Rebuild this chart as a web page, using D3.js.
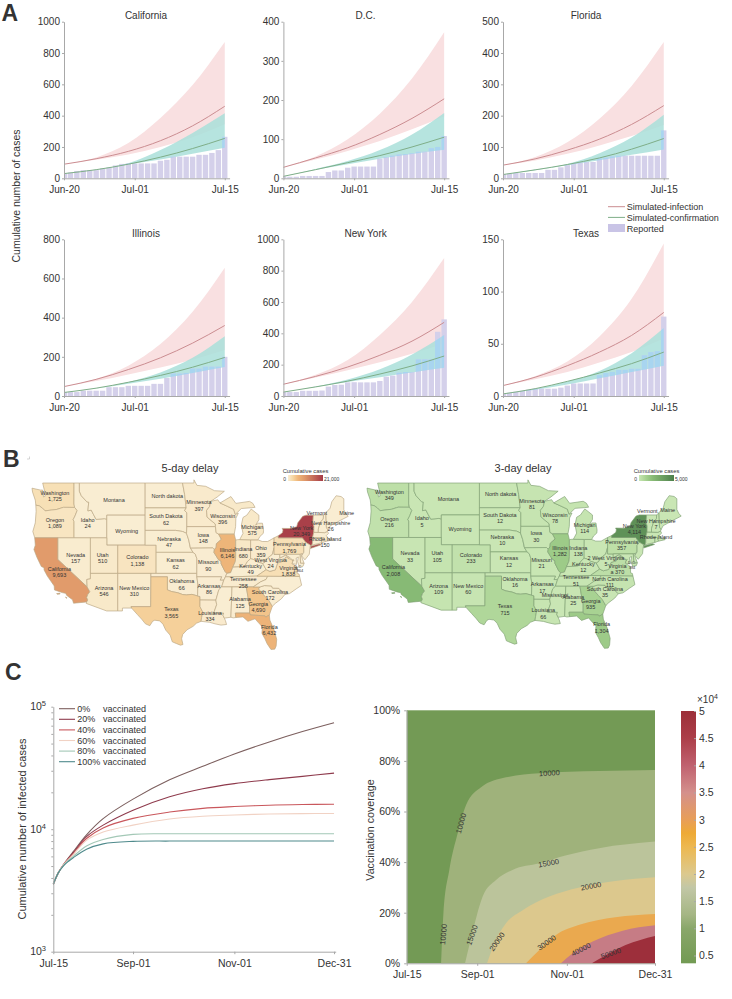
<!DOCTYPE html>
<html><head><meta charset="utf-8">
<script src="https://cdn.jsdelivr.net/npm/d3@7"></script>
<style>
html,body{margin:0;padding:0;background:#fff}
svg{display:block}
text{font-family:"Liberation Sans",Arial,sans-serif;fill:#333}
</style></head><body><div id="c"></div>
<script>
/* ---------- Panel A data ---------- */
const stateNamesA=["California","D.C.","Florida","Illinois","New York","Texas"];
const yMaxA=[1000,400,500,800,1000,150];
const yStepA=[200,100,100,200,200,50];
const knotDays=[0,5,10,15,20,25];
const dayTicksA=[0,11,25];
const dayLabelsA=["Jun-20","Jul-01","Jul-15"];
const reportedCA=[32,37,47,52,52,52,62,68,82,92,95,95,95,95,95,112,118,138,138,138,138,150,150,162,180,265];
const reportedDC=[5,4,4,6,6,6,6,16,20,20,27,30,30,30,30,50,54,58,61,62,64,68,68,77,80,108];
const reportedFL=[13,15,17,17,17,17,17,27,27,35,42,48,50,52,52,64,66,70,72,72,72,72,72,72,72,153];
const reportedIL=[20,20,20,27,27,27,27,45,45,45,52,52,52,52,62,62,92,115,115,118,140,140,150,150,150,200];
const reportedNY=[25,25,25,33,33,33,35,60,70,72,87,88,87,87,87,96,123,130,149,153,153,234,234,234,410,489];
const reportedTX=[2,3,4,5,6,7,7,7,7,8,10,12,12,12,12,20,22,23,25,25,26,26,39,42,43,76];
const infCA=[90,125,172,240,335,460], infUpCA=[90,133,225,385,595,870], infLoCA=[90,118,152,200,262,345];
const conCA=[30,55,90,135,190,255], conUpCA=[30,56,96,180,290,415], conLoCA=[30,55,88,120,156,195];
const infDC=[28,52,78,112,153,203], infUpDC=[28,56,100,165,255,373], infLoDC=[28,48,70,95,125,158];
const conDC=[5,22,40,58,80,105], conUpDC=[5,24,44,72,112,167], conLoDC=[5,22,36,50,62,73];
const infFL=[42,62,90,125,172,232], infUpFL=[42,68,115,190,295,435], infLoFL=[42,57,78,105,135,170];
const conFL=[12,27,44,65,93,127], conUpFL=[12,28,46,80,130,203], conLoFL=[12,26,42,58,75,92];
const infIL=[48,85,135,195,270,360], infUpIL=[48,88,155,265,430,655], infLoIL=[48,76,110,145,185,235];
const conIL=[18,40,70,105,147,197], conUpIL=[18,40,72,120,195,305], conLoIL=[18,38,62,88,118,148];
const infNY=[75,125,185,260,350,470], infUpNY=[75,135,230,390,600,880], infLoNY=[75,118,165,215,270,335];
const conNY=[25,58,95,140,192,255], conUpNY=[25,60,105,170,265,390], conLoNY=[25,58,90,120,150,180];
const infTX=[10,18,29,42,58,80], infUpTX=[10,19,33,57,93,146], infLoTX=[10,16,23,32,42,55];
const conTX=[2,7,14,22,31,42], conUpTX=[2,7,14,24,41,65], conLoTX=[2,6,11,17,23,29];
const reportedA=[reportedCA,reportedDC,reportedFL,reportedIL,reportedNY,reportedTX];
const infA=[infCA,infDC,infFL,infIL,infNY,infTX],infUpA=[infUpCA,infUpDC,infUpFL,infUpIL,infUpNY,infUpTX],infLoA=[infLoCA,infLoDC,infLoFL,infLoIL,infLoNY,infLoTX];
const conA=[conCA,conDC,conFL,conIL,conNY,conTX],conUpA=[conUpCA,conUpDC,conUpFL,conUpIL,conUpNY,conUpTX],conLoA=[conLoCA,conLoDC,conLoFL,conLoIL,conLoNY,conLoTX];

/* ---------- Panel B data (lon/lat outlines) ---------- */
const states={
WA:[[[-124.7,48.38],[-123.2,48.15],[-122.75,48.15],[-122.6,47.3],[-122.3,47.4],[-122.4,48.0],[-122.75,49],[-117.03,49],[-117.04,46.42],[-116.92,45.99],[-118.98,46],[-119.3,45.93],[-120.2,45.73],[-121.2,45.65],[-122.3,45.55],[-122.8,45.9],[-123.4,46.2],[-124,46.27],[-124.1,46.9],[-124.6,47.9]]],
OR:[[[-124,46.27],[-123.4,46.2],[-122.8,45.9],[-122.3,45.55],[-121.2,45.65],[-120.2,45.73],[-119.3,45.93],[-118.98,46],[-116.92,45.99],[-116.46,45.6],[-116.85,44.9],[-117.2,44.4],[-117.03,44.2],[-117.03,42],[-124.2,42],[-124.55,42.85],[-124.1,44],[-123.95,45.5]]],
ID:[[[-117.03,49],[-116.05,49],[-116.05,48],[-115.7,47.45],[-114.7,46.7],[-114.35,46.65],[-114.5,45.55],[-113.9,45.65],[-113.45,45.05],[-113,44.45],[-111.5,44.55],[-111.05,44.48],[-111.05,42],[-117.03,42],[-117.03,44.2],[-117.2,44.4],[-116.85,44.9],[-116.46,45.6],[-116.92,45.99],[-117.04,46.42]]],
MT:[[[-116.05,49],[-104.05,49],[-104.05,45],[-111.05,45],[-111.05,44.48],[-111.5,44.55],[-113,44.45],[-113.45,45.05],[-113.9,45.65],[-114.5,45.55],[-114.35,46.65],[-114.7,46.7],[-115.7,47.45],[-116.05,48]]],
WY:[[[-111.05,45],[-104.05,45],[-104.05,41],[-111.05,41]]],
NV:[[[-120,42],[-114.04,42],[-114.04,36.2],[-114.7,36.1],[-114.63,35],[-120,39]]],
CA:[[[-124.2,42],[-120,42],[-120,39],[-114.63,35],[-114.13,34.27],[-114.5,33.9],[-114.72,33.4],[-114.52,33.03],[-114.72,32.72],[-117.12,32.53],[-117.3,33.05],[-118.4,33.75],[-118.5,34.03],[-119.2,34.15],[-120.6,34.55],[-120.65,35.15],[-121.9,36.6],[-122.5,37.5],[-122.5,37.8],[-123,38],[-123.8,39.3],[-124.35,40.4],[-124.1,41]],[[-120.2,34],[-119.6,34.05],[-119.6,33.93],[-120.1,33.9]],[[-118.6,33.45],[-118.3,33.35],[-118.4,33.3]]],
UT:[[[-114.04,42],[-111.05,42],[-111.05,41],[-109.05,41],[-109.05,37],[-114.04,37]]],
AZ:[[[-114.04,37],[-109.05,37],[-109.05,31.33],[-111.07,31.33],[-114.81,32.5],[-114.72,32.72],[-114.52,33.03],[-114.72,33.4],[-114.5,33.9],[-114.13,34.27],[-114.63,35],[-114.7,36.1],[-114.04,36.2]]],
CO:[[[-109.05,41],[-102.05,41],[-102.05,37],[-109.05,37]]],
NM:[[[-109.05,37],[-103,37],[-103.04,32],[-106.62,32],[-106.53,31.78],[-108.2,31.78],[-108.2,31.33],[-109.05,31.33]]],
ND:[[[-104.05,49],[-97.23,49],[-96.85,47.6],[-96.56,45.93],[-104.05,45.93]]],
SD:[[[-104.05,45.93],[-96.56,45.93],[-96.85,45.6],[-96.45,45.3],[-96.45,43.5],[-96.5,42.6],[-97.2,42.85],[-98.5,43],[-104.05,43]]],
NE:[[[-104.05,43],[-98.5,43],[-97.2,42.85],[-96.5,42.6],[-96.1,41.7],[-95.85,40.7],[-95.31,40],[-102.05,40],[-102.05,41],[-104.05,41]]],
KS:[[[-102.05,40],[-95.31,40],[-94.9,39.75],[-94.61,39.11],[-94.62,37],[-102.05,37]]],
OK:[[[-103,37],[-94.62,37],[-94.62,36.5],[-94.43,35.4],[-94.48,33.64],[-95.5,33.88],[-96.5,33.8],[-97.2,33.85],[-98.1,34.13],[-99.2,34.3],[-100,34.56],[-100,36.5],[-103,36.5]]],
TX:[[[-106.62,32],[-103.04,32],[-103,36.5],[-100,36.5],[-100,34.56],[-99.2,34.3],[-98.1,34.13],[-97.2,33.85],[-96.5,33.8],[-95.5,33.88],[-94.48,33.64],[-94.04,33.55],[-94.04,32],[-93.55,31.2],[-93.75,30.3],[-93.84,29.7],[-94.7,29.4],[-95.3,28.9],[-96.4,28.35],[-97.2,27.6],[-97.4,26.9],[-97.15,25.96],[-97.6,25.85],[-98.3,26.1],[-99.1,26.4],[-99.5,27.5],[-100.3,28.3],[-100.8,29.25],[-101.4,29.77],[-102.3,29.88],[-102.7,29.7],[-103.2,29],[-104,29.3],[-104.7,30.05],[-105.5,30.8],[-106.53,31.78]]],
MN:[[[-97.23,49],[-95.15,49],[-95.15,49.38],[-94.6,48.72],[-93,48.6],[-91.4,48.07],[-89.6,48],[-90.9,47.3],[-92.1,46.75],[-92.3,46.1],[-92.85,45.6],[-92.75,44.75],[-91.25,43.85],[-91.22,43.5],[-96.45,43.5],[-96.45,45.3],[-96.85,45.6],[-96.56,45.93],[-96.85,47.6]]],
IA:[[[-96.45,43.5],[-91.22,43.5],[-91.1,42.7],[-90.64,42.5],[-90.15,41.8],[-91.05,41.2],[-91.1,40.7],[-91.42,40.38],[-91.73,40.61],[-95.77,40.58],[-96.1,41.7],[-96.5,42.6]]],
MO:[[[-95.77,40.58],[-91.73,40.61],[-91.42,40.38],[-91.5,40],[-90.7,39],[-90.2,38.75],[-90.2,38.4],[-89.5,37.3],[-89.15,37],[-89.4,36.5],[-89.7,36],[-90.37,36],[-90.1,36.5],[-94.62,36.5],[-94.62,37],[-94.61,39.11],[-94.9,39.75],[-95.31,40]]],
AR:[[[-94.62,36.5],[-90.1,36.5],[-90.37,36],[-89.7,36],[-90.1,35],[-90.6,34.6],[-91.15,33],[-94.04,33.02],[-94.04,33.55],[-94.48,33.64],[-94.43,35.4]]],
LA:[[[-94.04,33.02],[-91.15,33],[-91,32.3],[-91.55,31],[-89.73,31],[-89.85,30.65],[-89.6,30.2],[-89.4,29.8],[-89.2,29.2],[-90.2,29.1],[-91.3,29.3],[-92.3,29.55],[-93.84,29.7],[-93.75,30.3],[-93.55,31.2],[-94.04,32]]],
WI:[[[-92.1,46.75],[-90.8,46.95],[-90.4,46.55],[-89.1,46.15],[-87.9,45.75],[-87.6,45.1],[-87.05,45.25],[-87.5,44.6],[-87.55,43.5],[-87.8,42.5],[-90.64,42.5],[-91.1,42.7],[-91.22,43.5],[-91.25,43.85],[-92.75,44.75],[-92.85,45.6],[-92.3,46.1]]],
IL:[[[-90.64,42.5],[-87.8,42.5],[-87.53,41.7],[-87.53,39.35],[-87.6,38.7],[-88.05,37.9],[-88.45,37.1],[-89.15,37],[-89.5,37.3],[-90.2,38.4],[-90.2,38.75],[-90.7,39],[-91.5,40],[-91.42,40.38],[-91.1,40.7],[-91.05,41.2],[-90.15,41.8]]],
IN:[[[-87.53,41.7],[-87.2,41.75],[-86.8,41.76],[-84.8,41.73],[-84.82,39.1],[-85.4,38.7],[-85.9,38],[-86.5,37.95],[-88.05,37.9],[-87.6,38.7],[-87.53,39.35]]],
OH:[[[-84.8,41.73],[-83.45,41.73],[-82.7,41.5],[-81.7,41.5],[-80.52,42],[-80.52,40.64],[-80.85,39.7],[-81.7,39.2],[-82.2,38.6],[-82.6,38.42],[-83.6,38.65],[-84.3,39],[-84.82,39.1]]],
MI:[[[-86.8,41.76],[-84.8,41.73],[-83.45,41.73],[-83.1,42.2],[-82.5,42.6],[-82.45,43],[-82.65,43.95],[-83.4,43.95],[-83.9,43.7],[-83.3,44.4],[-83.3,45],[-84.7,45.78],[-85.5,45],[-86.2,44.7],[-86.5,43.7],[-86.2,42.6]],[[-90.4,46.55],[-88.4,47.35],[-87.5,46.5],[-86,46.65],[-85,46.75],[-84.4,46.5],[-84,46],[-84.7,45.95],[-86.5,45.85],[-87.6,45.1],[-87.9,45.75],[-89.1,46.15]]],
KY:[[[-89.4,36.5],[-89.15,37],[-88.45,37.1],[-88.05,37.9],[-86.5,37.95],[-85.9,38],[-85.4,38.7],[-84.82,39.1],[-84.3,39],[-83.6,38.65],[-82.6,38.42],[-81.97,37.54],[-83.68,36.6],[-88.07,36.5]]],
TN:[[[-90.1,35],[-89.7,36],[-89.4,36.5],[-88.07,36.5],[-83.68,36.6],[-81.68,36.59],[-82,36.1],[-83,35.75],[-84.32,35],[-88.2,35]]],
MS:[[[-91.15,33],[-90.6,34.6],[-90.1,35],[-88.2,35],[-88.4,30.35],[-89.6,30.2],[-89.85,30.65],[-89.73,31],[-91.55,31],[-91,32.3]]],
AL:[[[-88.2,35],[-85.6,35],[-85.15,32.8],[-85,32.3],[-85,31],[-87.6,31],[-87.5,30.3],[-88,30.25],[-88.4,30.35]]],
GA:[[[-85.6,35],[-84.32,35],[-83.1,35],[-83.35,34.7],[-82.2,33.6],[-81.5,33],[-80.85,32.05],[-81.4,30.7],[-82.05,30.37],[-82.2,30.57],[-84.85,30.7],[-85,31],[-85,32.3],[-85.15,32.8]]],
FL:[[[-87.6,31],[-85,31],[-84.85,30.7],[-82.2,30.57],[-82.05,30.37],[-81.4,30.7],[-81.3,29.9],[-80.55,28.4],[-80.05,26.8],[-80.15,25.7],[-80.4,25.2],[-81.1,25.15],[-81.8,26.1],[-82.2,26.9],[-82.75,27.8],[-82.65,28.8],[-83.4,29.5],[-84,30.1],[-85.3,29.7],[-86.2,30.4],[-87.5,30.3]]],
SC:[[[-83.35,34.7],[-83.1,35],[-82.3,35.2],[-81,35.15],[-80.8,34.82],[-79.67,34.8],[-78.55,33.86],[-79.2,33.2],[-80.3,32.5],[-80.85,32.05],[-81.5,33],[-82.2,33.6]]],
NC:[[[-84.32,35],[-83,35.75],[-82,36.1],[-81.68,36.59],[-75.87,36.55],[-75.5,35.25],[-76.5,34.7],[-77.7,34],[-78.55,33.86],[-79.67,34.8],[-80.8,34.82],[-81,35.15],[-82.3,35.2],[-83.1,35]]],
VA:[[[-83.68,36.6],[-81.97,37.54],[-81.3,37.3],[-80.3,37.5],[-79.9,38.5],[-78.9,38.75],[-78.35,39.4],[-77.8,39.13],[-77.05,38.85],[-77.25,38.4],[-76.3,37.9],[-76.3,37],[-75.97,36.9],[-75.87,36.55],[-81.68,36.59]]],
WV:[[[-81.97,37.54],[-82.6,38.42],[-82.2,38.6],[-81.7,39.2],[-80.85,39.7],[-80.52,40.64],[-80.52,39.72],[-79.48,39.72],[-79.48,39.2],[-78.4,39.62],[-77.75,39.32],[-77.8,39.13],[-78.35,39.4],[-78.9,38.75],[-79.9,38.5],[-80.3,37.5],[-81.3,37.3]]],
PA:[[[-80.52,42],[-79.76,42.27],[-79.76,42],[-75.35,42],[-74.7,41.35],[-75.1,40.9],[-75.1,40],[-75.4,39.8],[-75.8,39.72],[-80.52,39.72]]],
NY:[[[-79.76,42.27],[-79,42.7],[-78.9,43.05],[-79.05,43.27],[-77.5,43.25],[-76.4,43.5],[-76.2,44],[-75.3,44.85],[-74.7,45],[-73.35,45],[-73.45,44],[-73.25,43.55],[-73.27,42.75],[-73.5,42.05],[-73.5,41.3],[-73.65,41],[-74,40.75],[-73.9,41],[-74.7,41.35],[-75.35,42],[-79.76,42]],[[-73.8,40.85],[-72.3,41.15],[-71.9,41.05],[-73.9,40.55]]],
NJ:[[[-74.7,41.35],[-73.9,41],[-74,40.5],[-74.1,39.75],[-74.9,38.95],[-75.5,39.5],[-75.1,40],[-75.1,40.9]]],
DE:[[[-75.8,39.72],[-75.4,39.8],[-75.55,39.5],[-75.05,38.45],[-75.7,38.46]]],
MD:[[[-79.48,39.72],[-75.8,39.72],[-75.7,38.46],[-75.05,38.45],[-75.25,38.03],[-75.9,37.95],[-76.25,38.7],[-76.1,39.35],[-76.5,39.2],[-76.4,38.3],[-77.25,38.4],[-77.05,38.85],[-77.75,39.32],[-78.4,39.62],[-79.48,39.2]]],
DC:[[[-77.12,38.93],[-77.04,39],[-76.91,38.89],[-77.04,38.79]]],
CT:[[[-73.5,42.05],[-71.8,42.02],[-71.85,41.32],[-73.65,41],[-73.5,41.3]]],
RI:[[[-71.8,42.02],[-71.38,42.02],[-71.15,41.5],[-71.85,41.32]]],
MA:[[[-73.5,42.05],[-73.27,42.75],[-72.46,42.73],[-71.3,42.7],[-70.8,42.87],[-70.6,42.6],[-71,42.3],[-70.5,41.8],[-70.05,41.8],[-70.2,42.05],[-69.95,41.7],[-71.15,41.5],[-71.38,42.02],[-71.8,42.02]]],
VT:[[[-73.35,45],[-71.5,45],[-71.55,44.5],[-72.05,44.1],[-72.45,43.2],[-72.46,42.73],[-73.27,42.75],[-73.25,43.55],[-73.45,44]]],
NH:[[[-71.5,45],[-71.08,45.3],[-70.98,43.4],[-70.7,43.07],[-70.8,42.87],[-71.3,42.7],[-72.46,42.73],[-72.45,43.2],[-72.05,44.1],[-71.55,44.5]]],
ME:[[[-71.08,45.3],[-70.3,45.9],[-70,46.7],[-69.2,47.45],[-68.3,47.35],[-67.8,47.07],[-67.8,45.7],[-67.45,45.2],[-67,44.85],[-68.5,44.3],[-69.5,43.9],[-70.3,43.6],[-70.7,43.07],[-70.98,43.4]]]
};
const delay5={WA:1725,OR:1089,ID:24,SD:62,MN:397,WI:396,MI:575,NV:157,UT:510,CO:1138,NE:47,IA:148,IL:6146,IN:680,OH:359,PA:1769,NY:20349,NH:26,RI:150,CA:9693,AZ:546,NM:310,KS:62,MO:90,OK:66,AR:86,KY:49,WV:24,VA:1838,TN:258,SC:172,GA:4690,FL:6432,AL:125,LA:334,TX:3565,DC:1864};
const delay3={WA:349,OR:216,ID:5,SD:12,MN:81,WI:78,MI:114,NV:33,UT:105,CO:233,NE:10,IA:30,IL:1282,IN:138,PA:357,NY:4114,NH:7,CA:2008,AZ:109,NM:60,KS:12,MO:21,OK:16,AR:17,KY:12,WV:5,VA:370,TN:51,NC:111,SC:35,GA:935,AL:25,FL:1304,LA:66,TX:715,DC:384};
/* label texts: name, value */
const labels5=[["Washington","1,725"],["Montana",""],["North dakota",""],["Minnesota","397"],["Wisconsin","396"],["Michigan","575"],["South Dakota","62"],["Oregon","1,089"],["Idaho","24"],["Wyoming",""],["Nebraska","47"],["Iowa","148"],["Illinois","6,146"],["Indiana","680"],["Ohio","359"],["Pennsylvania","1,769"],["New York","20,349"],["Vermont",""],["Maine",""],["New Hampshire","26"],["Rhode Island","150"],["Nevada","157"],["Utah","510"],["Colorado","1,138"],["Kansas","62"],["Missouri","90"],["Kentucky","49"],["West Virginia","24"],["Virginia","1,838"],["Tennessee","258"],["Oklahoma","66"],["Arkansas","86"],["Arizona","546"],["New Mexico","310"],["California","9,693"],["Texas","3,565"],["Alabama","125"],["Georgia","4,690"],["South Carolina","172"],["Louisiana","334"],["Florida","6,432"],["D.C.","1,864"]];
const labels3=[["Washington","349"],["Montana",""],["North dakota",""],["Minnesota","81"],["Wisconsin","78"],["Michigan","114"],["South Dakota","12"],["Oregon","216"],["Idaho","5"],["Wyoming",""],["Nebraska","10"],["Iowa","30"],["Illinois","1,282"],["Indiana","138"],["Pennsylvania","357"],["New York","4,114"],["Vermont",""],["Maine",""],["New Hampshire","7"],["Rhode Island",""],["Nevada","33"],["Utah","105"],["Colorado","233"],["Kansas","12"],["Missouri","21"],["Kentucky","12"],["2 West Virginia","5"],["Virginia","a 370"],["Tennessee","51"],["North Carolina","111"],["South Carolina","35"],["Oklahoma","16"],["Arkansas","17"],["Mississippi",""],["Alabama","25"],["Georgia","935"],["Arizona","109"],["New Mexico","60"],["California","2,008"],["Texas","715"],["Louisiana","66"],["Florida","1,304"],["D.C.","384"]];
/* label layout, in zoom units of the sheet */
const pos5={"Washington":[165,143],"Montana":[342,165],"North dakota":[502,152],"Minnesota":[597,172],"Wisconsin":[668,213],"Michigan":[757,245],"South Dakota":[498,214],"Oregon":[165,225],"Idaho":[263,225],"Wyoming":[380,258],"Nebraska":[507,282],"Iowa":[610,270],"Illinois":[682,314],"Indiana":[730,313],"Ohio":[783,310],"Pennsylvania":[868,298],"New York":[905,248],"Vermont":[950,203],"Maine":[1040,203],"New Hampshire":[992,233],"Rhode Island":[975,282],"Nevada":[227,330],"Utah":[308,330],"Colorado":[412,337],"Kansas":[527,346],"Missouri":[625,352],"Kentucky":[752,362],"West Virginia":[812,345],"Virginia":[865,368],"Tennessee":[730,403],"Oklahoma":[545,409],"Arkansas":[627,423],"Arizona":[312,428],"New Mexico":[403,428],"California":[178,372],"Texas":[514,493],"Alabama":[720,463],"Georgia":[775,477],"South Carolina":[810,440],"Louisiana":[630,503],"Florida":[808,546],"D.C.":[895,362]};
const pos3={"Washington":[88,140],"Montana":[265,161],"North dakota":[422,148],"Minnesota":[516,168],"Wisconsin":[585,209],"Michigan":[674,240],"South Dakota":[420,210],"Oregon":[88,221],"Idaho":[186,220],"Wyoming":[300,253],"Nebraska":[427,276],"Iowa":[529,265],"Illinois":[600,309],"Indiana":[655,309],"Pennsylvania":[785,290],"New York":[823,243],"Vermont":[862,197],"Maine":[923,195],"New Hampshire":[888,228],"Rhode Island":[888,276],"Nevada":[150,325],"Utah":[232,325],"Colorado":[333,330],"Kansas":[447,340],"Missouri":[545,345],"Kentucky":[670,357],"2 West Virginia":[738,338],"Virginia":[772,363],"Tennessee":[648,397],"North Carolina":[750,402],"South Carolina":[735,432],"Oklahoma":[465,402],"Arkansas":[547,418],"Mississippi":[585,450],"Alabama":[640,455],"Georgia":[692,468],"Arizona":[236,423],"New Mexico":[325,423],"California":[100,367],"Texas":[435,484],"Louisiana":[550,496],"Florida":[725,538],"D.C.":[816,352]};

/* ---------- Panel C data ---------- */
const daysC=[0,3,6,9,12,20,30,48,70,90,109,130,150,169];
const dayTicksC=[0,48,109,169];
const dayLabelsC=["Jul-15","Sep-01","Nov-01","Dec-31"];
const vac0=[3550,4400,5100,5800,6550,9000,12200,17600,25300,32600,41100,51600,62700,74000];
const vac20=[3550,4400,5100,5750,6400,8700,10800,14300,18400,21400,23550,25400,27000,28700];
const vac40=[3550,4400,5100,5700,6300,8400,10250,12250,13800,14800,15300,15700,15900,16000];
const vac60=[3550,4400,5100,5650,6200,8100,9480,10800,12100,12750,13050,13300,13400,13450];
const vac80=[3550,4400,5050,5550,6000,7300,8250,9070,9170,9180,9180,9180,9180,9180];
const vac100=[3550,4400,5000,5450,5850,6860,7590,7950,8000,8000,8000,8000,8000,8000];
const vacSeries=[vac0,vac20,vac40,vac60,vac80,vac100];
const vacNames=["0%","20%","40%","60%","80%","100%"];
const vacColors=["#7c5f5e","#8e3a4c","#c9575c","#f1d2c4","#a3c8b6","#4f8a8c"];
/* contour lines: [day, coverage %] */
const level10k=[[23.4,0],[25,19.8],[29,36.9],[34.7,51.4],[40.4,62.6],[50.6,69.6],[67.6,73.5],[90.3,75.1],[131,76],[169,76.4]];
const level15k=[[39.7,0],[43.8,9.9],[51.7,26.4],[60.8,32.9],[72,36.9],[90.3,39.5],[108,42.6],[131,45.5],[169,48.1]];
const level20k=[[54.7,0],[59.7,7.9],[67.6,15.8],[78.9,21],[97,26.4],[117.5,30],[142,32.5],[169,34]];
const level30k=[[81.2,0],[90.3,5.3],[101.6,11.2],[117.5,15.2],[142,18.2],[169,19.5]];
const level40k=[[105,0],[113,4],[126.6,8.6],[147,12.9],[169,15]];
const level50k=[[126,0],[135.8,3.3],[149,7.2],[169,10.8]];
const contourLevels=[level10k,level15k,level20k,level30k,level40k,level50k];
const bandColors=["#9fb27b","#bbc49b","#dcc88d","#eaa94f","#c67c85","#9d2f3b"];
const baseBand="#739a55";
const cbValues=[0.356,1,1.25,1.75,2,2.5,2.75,3,3.5,4,4.5,5];
const cbColors=["#729a53","#8aa76a","#a5b684","#c2c7a6","#dcc98e","#edb850","#eeaa36","#e89e58","#d4908c","#c0616f","#ac3e49","#9c2f38"];
const cbTicks=[0.5,1,1.5,2,2.5,3,3.5,4,4.5,5];
const covTicks=[0,20,40,60,80,100];

/* ---------- drawing ---------- */
const W=732,H=999;
const svg=d3.select("#c").append("svg").attr("width",W).attr("height",H);
const AX="#a8a8a8";
function styleAxis(g,fs){
  g.selectAll(".domain").attr("stroke",AX).attr("stroke-width",1);
  g.selectAll(".tick line").attr("stroke",AX);
  g.selectAll("text").attr("font-size",fs).attr("font-family",'"Liberation Sans",Arial,sans-serif').attr("fill","#333");
}
function letter(t,x,y){svg.append("text").text(t).attr("x",x).attr("y",y).attr("font-size",23).attr("font-weight","bold").attr("fill","#222");}
letter("A",1.5,21);letter("B",3,467);letter("C",5,680);

/* Panel A */
const colX=[64,283.4,503];
const rowY=[[21.7,178.3],[239.3,396]];
const titleX=[146,365.6,586];
const pxPerDay=6.43,extDays=25.75;
stateNamesA.forEach((nm,i)=>{
  const c=i%3,r=Math.floor(i/3);
  const x=d3.scaleLinear().domain([0,extDays]).range([colX[c],colX[c]+pxPerDay*extDays]);
  const y=d3.scaleLinear().domain([0,yMaxA[i]]).range([rowY[r][1],rowY[r][0]]);
  const g=svg.append("g");
  const band=(up,lo)=>d3.area().x((d,k)=>x(knotDays[k])).y0((d,k)=>y(lo[k])).y1(d=>y(d)).curve(d3.curveMonotoneX)(up);
  const ln=v=>d3.line().x((d,k)=>x(knotDays[k])).y(d=>y(d)).curve(d3.curveMonotoneX)(v);
  g.append("path").attr("d",band(infUpA[i],infLoA[i])).attr("fill","#f9e0e1");
  g.append("path").attr("d",band(conUpA[i],conLoA[i])).attr("fill","#a9dfd9").attr("fill-opacity",.85);
  const barW=5.4;
  const drawBars=(parent,col)=>parent.selectAll("rect").data(reportedA[i]).join("rect")
    .attr("x",(d,k)=>Math.max(x(k)-barW/2,x(0))).attr("width",(d,k)=>k==0?barW/2+.3:barW)
    .attr("y",d=>y(d)).attr("height",d=>y(0)-y(d)).attr("fill",col);
  drawBars(g.append("g"),"#d4d0ea");
  const cid="clipA"+i;
  svg.append("clipPath").attr("id",cid).append("path").attr("d",band(conUpA[i],conLoA[i]));
  drawBars(g.append("g").attr("clip-path",`url(#${cid})`),"#a8d5f0");
  g.append("path").attr("d",ln(infA[i])).attr("fill","none").attr("stroke","#cb8d91").attr("stroke-width",1);
  g.append("path").attr("d",ln(conA[i])).attr("fill","none").attr("stroke","#7fae88").attr("stroke-width",1);
  const gx=g.append("g").attr("transform",`translate(0,${y(0)})`)
    .call(d3.axisBottom(x).tickValues(dayTicksA).tickFormat((d,k)=>dayLabelsA[k]).tickSize(2).tickSizeOuter(0).tickPadding(6));
  styleAxis(gx,10);
  const gy=g.append("g").attr("transform",`translate(${x(0)},0)`)
    .call(d3.axisLeft(y).tickValues(d3.range(0,yMaxA[i]+1,yStepA[i])).tickFormat(d3.format("d")).tickSize(2).tickSizeOuter(0).tickPadding(2));
  styleAxis(gy,10);
  svg.append("text").text(nm).attr("x",titleX[c]).attr("y",r==0?18.5:236.5).attr("text-anchor","middle").attr("font-size",10);
});
svg.append("text").text("Cumulative number of cases").attr("transform","translate(20,196) rotate(-90)").attr("text-anchor","middle").attr("font-size",10.5);
const legA=svg.append("g");
[["Simulated-infection","#cb8d91",210],["Simulated-confirmation","#7fae88",220.7]].forEach(d=>{
  legA.append("line").attr("x1",608).attr("x2",625).attr("y1",d[2]-3.3).attr("y2",d[2]-3.3).attr("stroke",d[1]);
  legA.append("text").text(d[0]).attr("x",626.7).attr("y",d[2]).attr("font-size",9);
});
legA.append("rect").attr("x",608).attr("y",224).attr("width",17).attr("height",8).attr("fill","#c9c4e6");
legA.append("text").text("Reported").attr("x",626.7).attr("y",231.6).attr("font-size",9);

/* Panel B */
function drawMap(values,labels,pos,ox,scale,x0,color,stroke,baseFill,title,titleXp,cb){
  const proj=d3.geoMercator().scale(scale).center([-124.7,49]).translate([x0,483]);
  const toPath=ring=>d3.line()(ring.map(p=>proj(p)))+"Z";
  const g=svg.append("g");
  g.selectAll("path").data(Object.keys(states)).join("path")
    .attr("d",k=>states[k].map(toPath).join(""))
    .attr("fill",k=>values[k]!=null?color(values[k]):baseFill)
    .attr("stroke",stroke).attr("stroke-width",.65).attr("stroke-linejoin","round");
  const lab=svg.append("g");
  labels.forEach(l=>{
    const p=pos[l[0]]; if(!p) return;
    const tx=ox+p[0]/3, ty=445+p[1]/3;
    const small=l[0]=="D.C.";
    lab.append("text").text(l[0]).attr("x",tx).attr("y",ty+2).attr("text-anchor","middle").attr("font-size",small?4:5.5).attr("fill","#4a4a48");
    if(l[1]) lab.append("text").text(l[1]).attr("x",tx).attr("y",ty+(small?6.2:8.2)).attr("text-anchor","middle").attr("font-size",small?4:5.5).attr("fill","#4a4a48");
  });
  svg.append("text").text(title).attr("x",titleXp).attr("y",471.5).attr("text-anchor","middle").attr("font-size",11).attr("fill","#444");
  const id="grad"+ox;
  const lg=svg.append("defs").append("linearGradient").attr("id",id);
  color.domain().forEach(v=>lg.append("stop").attr("offset",v/cb.max).attr("stop-color",color(v)));
  svg.append("rect").attr("x",cb.x).attr("y",475).attr("width",35).attr("height",6).attr("fill",`url(#${id})`);
  svg.append("text").text("Cumulative cases").attr("x",cb.x+17.5).attr("y",472.5).attr("text-anchor","middle").attr("font-size",5.8).attr("fill","#555");
  svg.append("text").text("0").attr("x",cb.x-2).attr("y",480.5).attr("text-anchor","end").attr("font-size",5).attr("fill","#555");
  svg.append("text").text(cb.label).attr("x",cb.x+36).attr("y",480.5).attr("font-size",5).attr("fill","#555");
}
const orange=d3.scaleLinear().domain([0,3000,6000,10000,21000]).range(["#f9edd2","#f6d6a2","#efb67a","#e0996a","#a63a47"]);
const green=d3.scaleLinear().domain([0,1000,2000,4114,5000]).range(["#c9e6b4","#a6d190","#87ba75","#5f9158","#4a7f4a"]);
drawMap(delay5,labels5,pos5,0,314,32,orange,"#baa682","#f9edd2","5-day delay",190,{x:288,max:21000,label:"21,000"});
drawMap(delay3,labels3,pos3,360,312,367,green,"#7f9f72","#c9e6b4","3-day delay",523,{x:639,max:5000,label:"5,000"});
svg.append("path").attr("d",d3.line()([[27,459],[29.5,459],[29.5,456.5]])).attr("fill","none").attr("stroke","#bbb").attr("stroke-width",.6);

/* Panel C left */
{
  const x=d3.scaleLinear().domain([0,170]).range([53.3,335.7]);
  const y=d3.scaleLog().domain([1000,100000]).range([951.7,706.7]);
  const line=d3.line().x((d,k)=>x(daysC[k])).y(d=>y(d)).curve(d3.curveCatmullRom.alpha(0.5));
  vacSeries.forEach((s,i)=>svg.append("path").attr("d",line(s)).attr("fill","none").attr("stroke",vacColors[i]).attr("stroke-width",1.1));
  const gx=svg.append("g").attr("transform","translate(0,951.7)")
    .call(d3.axisBottom(x).tickValues(dayTicksC).tickFormat((d,k)=>dayLabelsC[k]).tickSize(2.5).tickSizeOuter(0).tickPadding(5));
  styleAxis(gx,10.5);
  const minor=[];[1000,10000].forEach(b=>{for(let m=2;m<10;m++)minor.push(b*m);});
  const gy=svg.append("g").attr("transform","translate(53.3,0)")
    .call(d3.axisLeft(y).tickValues([1000,10000,100000].concat(minor)).tickFormat("").tickSize(2).tickSizeOuter(0));
  styleAxis(gy,10);
  [[1000,"3"],[10000,"4"],[100000,"5"]].forEach(d=>{
    const t=svg.append("text").attr("x",46).attr("y",y(d[0])+3.6).attr("text-anchor","end").attr("font-size",10.5);
    t.append("tspan").text("10");
    t.append("tspan").text(d[1]).attr("dy",-4).attr("font-size",7.5);
  });
  svg.append("text").text("Cumulative number of infected cases").attr("transform","translate(26,829) rotate(-90)").attr("text-anchor","middle").attr("font-size",11);
  vacNames.forEach((n,i)=>{
    const ly=708.7+i*10.6;
    svg.append("line").attr("x1",59).attr("x2",75).attr("y1",ly).attr("y2",ly).attr("stroke",vacColors[i]).attr("stroke-width",1.1);
    svg.append("text").text(n).attr("x",77.3).attr("y",ly+3).attr("font-size",9);
    svg.append("text").text("vaccinated").attr("x",103).attr("y",ly+3).attr("font-size",9);
  });
}
/* Panel C right */
{
  const x=d3.scaleLinear().domain([0,169]).range([406.7,655]);
  const y=d3.scaleLinear().domain([0,100]).range([963.3,710.3]);
  svg.append("rect").attr("x",x(0)).attr("y",y(100)).attr("width",x(169)-x(0)).attr("height",y(0)-y(100)).attr("fill",baseBand);
  const area=d3.area().x(d=>x(d[0])).y0(y(0)).y1(d=>y(d[1])).curve(d3.curveMonotoneX);
  contourLevels.forEach((lv,i)=>{
    svg.append("path").attr("d",area(lv)).attr("fill",bandColors[i]);
  });
  const gx=svg.append("g").attr("transform","translate(0,963.3)")
    .call(d3.axisBottom(x).tickValues(dayTicksC).tickFormat((d,k)=>dayLabelsC[k]).tickSize(2.5).tickSizeOuter(0).tickPadding(5));
  styleAxis(gx,10.5);
  const gy=svg.append("g").attr("transform","translate(406.7,0)")
    .call(d3.axisLeft(y).tickValues(covTicks).tickFormat(d=>d+"%").tickSize(2.5).tickSizeOuter(0).tickPadding(4));
  styleAxis(gy,10.5);
  svg.append("text").text("Vaccination coverage").attr("transform","translate(374,830) rotate(-90)").attr("text-anchor","middle").attr("font-size",10.7);
  const contourLabels=[[10000,550,279,-3],[10000,285,430,-75],[10000,232,763,-85],[15000,548,549,-10],[15000,318,765,-70],[20000,675,618,-10],[20000,393,785,-55],[30000,542,788,-35],[40000,645,808,-27],[50000,735,820,-20]];
  contourLabels.forEach(d=>svg.append("text").text(d[0]).attr("transform",`translate(${366+d[1]/3},${680+d[2]/3}) rotate(${d[3]})`)
    .attr("text-anchor","middle").attr("dy","0.35em").attr("font-size",7.5).attr("fill","#222"));
  /* colour bar */
  const cb=d3.scaleLinear().domain([0.356,5]).range([963.3,711]);
  const cbCol=d3.scaleLinear().domain(cbValues).range(cbColors);
  const lg=svg.append("defs").append("linearGradient").attr("id","cbGrad").attr("x1",0).attr("x2",0).attr("y1",1).attr("y2",0);
  cbValues.forEach(v=>lg.append("stop").attr("offset",(v-0.356)/(5-0.356)).attr("stop-color",cbCol(v)));
  svg.append("rect").attr("x",681).attr("y",711).attr("width",15).attr("height",252.3).attr("fill","url(#cbGrad)");
  const gc=svg.append("g").attr("transform","translate(696,0)")
    .call(d3.axisRight(cb).tickValues(cbTicks).tickFormat(d=>d).tickSize(-2).tickSizeOuter(0).tickPadding(3));
  gc.select(".domain").remove();
  styleAxis(gc,10.5);
  const t=svg.append("text").attr("x",697).attr("y",702.5).attr("font-size",10);
  t.append("tspan").text("×10");
  t.append("tspan").text("4").attr("dy",-4).attr("font-size",7);
}
</script></body></html>
